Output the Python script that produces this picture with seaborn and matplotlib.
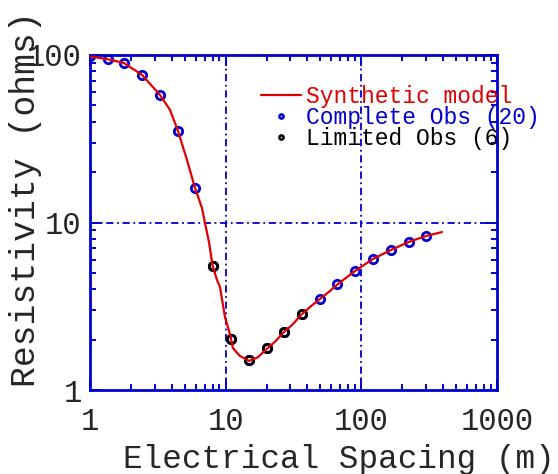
import matplotlib
matplotlib.use('Agg')
import matplotlib.pyplot as plt
import seaborn as sns
import pandas as pd
from matplotlib.ticker import FixedLocator, FixedFormatter, LogLocator, NullFormatter
from matplotlib.lines import Line2D

# --- data ---
model_spacing = [1.0, 1.33, 1.78, 2.42, 3.28, 3.89, 4.45, 5.19, 5.94, 6.69, 7.04, 7.53,
                 8.02, 8.63, 9.08, 9.88, 10.8, 11.3, 12.7, 14.9, 17.3, 20.1, 23.1, 26.9,
                 30.8, 36.5, 41.8, 49.5, 58.7, 67.2, 89.7, 122, 165, 224, 299, 393]
model_rho = [98.0, 94.6, 89.6, 76.0, 57.7, 47.0, 35.2, 23.6, 16.1, 12.2, 9.93, 7.65,
             5.50, 4.54, 4.12, 2.73, 2.13, 1.78, 1.60, 1.49, 1.57, 1.76, 1.94, 2.22,
             2.44, 2.84, 3.13, 3.49, 3.90, 4.29, 5.13, 6.06, 6.85, 7.66, 8.30, 8.77]

complete_spacing = [1.0, 1.35, 1.78, 2.42, 3.28, 4.43, 5.94, 8.02, 11.0, 14.9,
                    20.1, 26.9, 36.5, 49.5, 66.4, 89.7, 121, 165, 224, 299]
complete_rho = [98.6, 94.6, 89.9, 76.2, 57.7, 35.3, 16.1, 5.50, 2.01, 1.51,
                1.77, 2.23, 2.83, 3.51, 4.31, 5.16, 6.08, 6.85, 7.66, 8.34]

limited_spacing = [8.02, 11.0, 14.9, 20.1, 26.9, 36.5]
limited_rho = [5.50, 2.01, 1.51, 1.77, 2.23, 2.83]

BLUE = '#0000d0'
RED = '#e00000'

sns.set_style('ticks')
plt.rcParams['font.family'] = ['Liberation Mono', 'DejaVu Sans Mono']

fig = plt.figure(figsize=(5.58, 4.74), dpi=100)
ax = fig.add_axes([90 / 558, 1 - 390 / 474, 407 / 558, 335 / 474])

model_df = pd.DataFrame({'spacing': model_spacing, 'rho': model_rho})
complete_df = pd.DataFrame({'spacing': complete_spacing, 'rho': complete_rho})
limited_df = pd.DataFrame({'spacing': limited_spacing, 'rho': limited_rho})

sns.lineplot(data=model_df, x='spacing', y='rho', ax=ax, color=RED, lw=1.6,
             sort=False, estimator=None, zorder=6)
ax.plot(complete_df['spacing'], complete_df['rho'], 'o', ms=6, mfc='none',
        mec=BLUE, mew=2, zorder=4)
ax.plot(limited_df['spacing'], limited_df['rho'], 'o', ms=6, mfc='none',
        mec='black', mew=2, zorder=5)

ax.set_xscale('log')
ax.set_yscale('log')
ax.set_xlim(1, 1000)
ax.set_ylim(1, 100)

# dash-dot grid at the decades only
for v in [10, 100]:
    ax.axvline(v, color=BLUE, lw=1.3, ls=(0, (4, 2, 1, 2)), zorder=1)
ax.axhline(10, color=BLUE, lw=1.3, ls=(0, (4, 2, 1, 2)), zorder=1)

ax.xaxis.set_major_locator(FixedLocator([1, 10, 100, 1000]))
ax.xaxis.set_major_formatter(FixedFormatter(['1', '10', '100', '1000']))
ax.yaxis.set_major_locator(FixedLocator([1, 10, 100]))
ax.yaxis.set_major_formatter(FixedFormatter(['1', '10', '100']))
for axis in (ax.xaxis, ax.yaxis):
    axis.set_minor_locator(LogLocator(base=10, subs=range(2, 10)))
    axis.set_minor_formatter(NullFormatter())

ax.tick_params(which='both', direction='in', top=True, right=True,
               color=BLUE, width=1.4, labelsize=22)
ax.tick_params(which='major', length=8, pad=6)
ax.tick_params(axis='x', which='major', pad=12)
ax.tick_params(which='minor', length=4)
for sp in ax.spines.values():
    sp.set_color(BLUE)
    sp.set_linewidth(2)

ax.set_xlabel('Electrical Spacing (m)', fontsize=23.5)
ax.set_ylabel('Resistivity (ohms)', fontsize=25)
ax.xaxis.set_label_coords(0.612, -0.16)
ax.yaxis.set_label_coords(-0.118, 0.57)

handles = [Line2D([], [], color=RED, lw=1.6),
           Line2D([], [], ls='none', marker='o', ms=3, mfc='none', mec=BLUE, mew=1.8),
           Line2D([], [], ls='none', marker='o', ms=3, mfc='none', mec='black', mew=1.8)]
labels = ['Synthetic model', 'Complete Obs (20)', 'Limited Obs (6)']
ax.legend(handles, labels, loc='upper left', bbox_to_anchor=(0.42, 0.91),
          frameon=False, fontsize=16.5, handlelength=1.75, handletextpad=0.2,
          labelspacing=-0.08, borderaxespad=0, borderpad=0,
          labelcolor=[RED, BLUE, 'black'])

fig.savefig('out.png', dpi=100)
